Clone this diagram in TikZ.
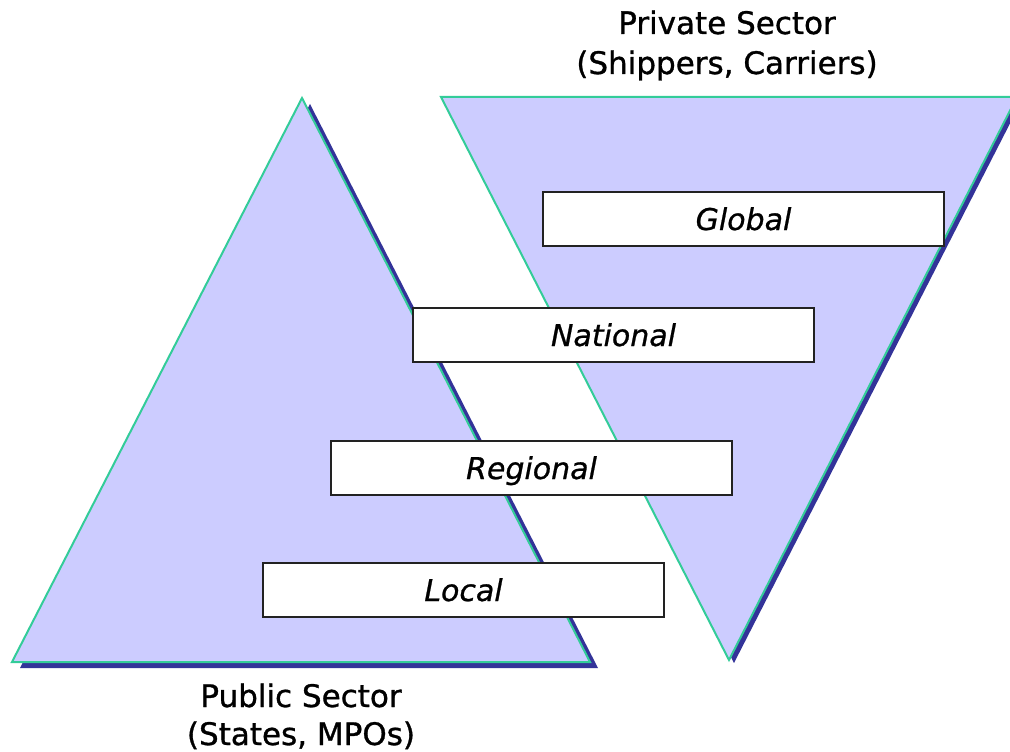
\documentclass[tikz,border=0pt]{standalone}
\usepackage{fontspec}
\setmainfont{DejaVu Sans}
\newfontfamily\titlefont[FakeBold=1]{DejaVu Sans}
\newfontfamily\levelfont[FakeBold=0.8]{DejaVu Sans}
\begin{document}
\begin{tikzpicture}[x=1pt,y=-1pt,
  sectortri/.style={fill=lav, draw=tealedge, line width=2pt, line join=miter},
  levelbox/.style={draw=boxline, fill=white, line width=2pt,
    minimum width=401pt, minimum height=54pt, inner sep=0pt,
    text height=22pt, text depth=0pt,
    font=\levelfont\fontsize{30}{36}\selectfont\itshape},
  sectortitle/.style={anchor=base, inner sep=0pt,
    font=\titlefont\fontsize{31}{38}\selectfont}
]
\definecolor{lav}{HTML}{CCCCFF}
\definecolor{tealedge}{HTML}{33CC99}
\definecolor{navyshadow}{HTML}{333399}
\definecolor{boxline}{HTML}{222222}

\useasboundingbox (0,0) rectangle (1010,752);
\clip (0,0) rectangle (1010,752);

% public sector: upright triangle with drop shadow
\coordinate (pA) at (302,98);
\coordinate (pL) at (12,662);
\coordinate (pR) at (590,662);
\fill[navyshadow] ([shift={(8,6)}]pA) -- ([shift={(8,6)}]pL) -- ([shift={(8,6)}]pR) -- cycle;
\path[sectortri] (pA) -- (pL) -- (pR) -- cycle;

% private sector: inverted triangle with drop shadow
\coordinate (qL) at (441,97);
\coordinate (qR) at (1017,97);
\coordinate (qB) at (729,660);
\fill[navyshadow] ([shift={(5,3)}]qL) -- ([shift={(5,3)}]qR) -- ([shift={(5,3)}]qB) -- cycle;
\path[sectortri] (qL) -- (qR) -- (qB) -- cycle;

% levels
\node[levelbox] (global)   at (743.5,219) {Global};
\node[levelbox] (national) at (613.5,335) {National};
\node[levelbox] (regional) at (531.5,468) {Regional};
\node[levelbox] (local)    at (463.5,590) {Local};

% sector titles
\node[sectortitle] (pvtA) at (727,34) {Private Sector};
\node[sectortitle] (pvtB) at (727,74) {(Shippers, Carriers)};
\node[sectortitle] (pubA) at (301,707) {Public Sector};
\node[sectortitle] (pubB) at (301,745) {(States, MPOs)};
\end{tikzpicture}
\end{document}
